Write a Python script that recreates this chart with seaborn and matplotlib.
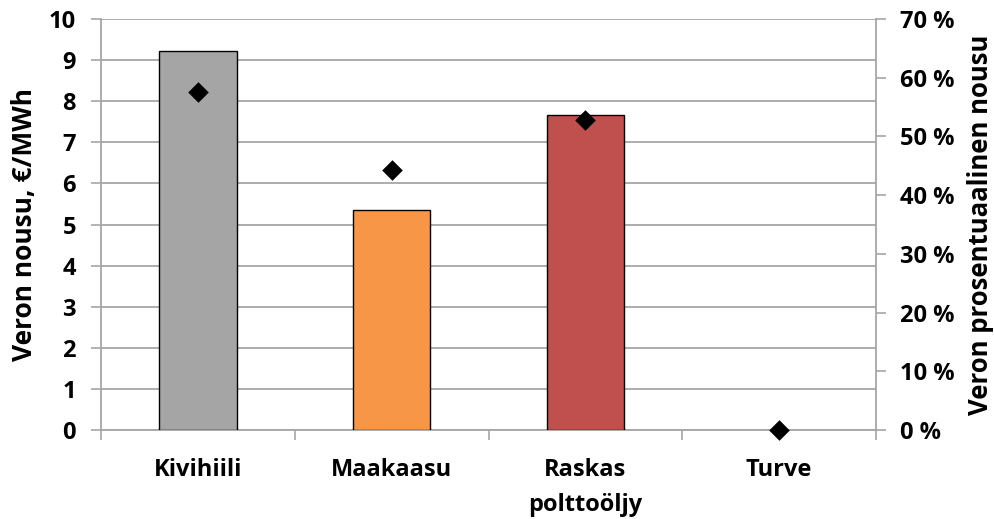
import matplotlib
matplotlib.use("Agg")
import matplotlib.pyplot as plt
import seaborn as sns
import pandas as pd
from matplotlib.ticker import FixedLocator, FuncFormatter

# Fuel categories and values
categories = ["Kivihiili", "Maakaasu", "Raskas\npolttoöljy", "Turve"]
tax_increase = [9.22, 5.35, 7.66, 0.0]          # €/MWh
pct_increase = [57.6, 44.3, 52.8, 0.0]          # %
bar_colors = ["#A5A5A5", "#F79646", "#C0504D", "#FFFFFF"]

sns.set_theme(style="white")
plt.rcParams["font.family"] = ["Open Sans", "DejaVu Sans"]
plt.rcParams["font.weight"] = "bold"
plt.rcParams["text.color"] = "black"

df = pd.DataFrame({"cat": categories, "tax": tax_increase, "pct": pct_increase})

fig = plt.figure(figsize=(9.95, 5.19), dpi=100)
ax = fig.add_axes([101 / 995, 1 - 430 / 519, 775 / 995, 411 / 519])

grid_c = "#A6A6A6"
sns.barplot(data=df, x="cat", y="tax", hue="cat", palette=bar_colors,
            saturation=1, legend=False, width=0.4, edgecolor="black",
            linewidth=1.0, ax=ax, zorder=3)
# a zero-height bar has no visible outline
for p, v in zip(ax.patches, tax_increase):
    if v == 0:
        p.set_linewidth(0)

ax.set_ylim(0, 10)
ax.set_xlim(-0.5, 3.5)
ax.set_yticks(range(0, 11))
ax.yaxis.grid(True, color=grid_c, linewidth=1.3, zorder=0)
ax.set_axisbelow(True)

for s in ["top", "right"]:
    ax.spines[s].set_visible(False)
for s in ["left", "bottom"]:
    ax.spines[s].set_color(grid_c)
    ax.spines[s].set_linewidth(1.3)

ax.tick_params(axis="y", which="major", direction="out", length=7, width=1.2,
               color=grid_c, labelsize=17, labelcolor="black", pad=11, left=True)
ax.tick_params(axis="x", which="major", length=0, labelsize=17,
               labelcolor="black", pad=20)
ax.xaxis.set_minor_locator(FixedLocator([-0.5, 0.5, 1.5, 2.5, 3.5]))
ax.tick_params(axis="x", which="minor", direction="out", length=7, width=1.2,
               color=grid_c, bottom=True)
ax.set_xlabel("")
ax.set_ylabel("Veron nousu, €/MWh", fontsize=19, fontweight="bold",
              color="black", labelpad=8)
for lbl in ax.get_xticklabels() + ax.get_yticklabels():
    lbl.set_fontweight("bold")
for lbl in ax.get_xticklabels():
    lbl.set_linespacing(1.62)

# Percentage increase on the secondary axis
ax2 = ax.twinx()
sns.scatterplot(data=df, x="cat", y="pct", marker="D", s=110, color="black",
                edgecolor="black", linewidth=0, ax=ax2, zorder=4, clip_on=False)
ax2.set_ylim(0, 70)
ax2.set_yticks(range(0, 71, 10))
ax2.yaxis.set_major_formatter(FuncFormatter(lambda v, p: f"{int(v)} %"))
for s in ["top", "left", "bottom"]:
    ax2.spines[s].set_visible(False)
ax2.spines["right"].set_color(grid_c)
ax2.spines["right"].set_linewidth(1.3)
ax2.tick_params(axis="y", direction="out", length=7, width=1.2, color=grid_c,
                labelsize=17, labelcolor="black", pad=10, right=True)
ax2.set_ylabel("Veron prosentuaalinen nousu", fontsize=18.5, fontweight="bold",
               color="black", labelpad=9)
for lbl in ax2.get_yticklabels():
    lbl.set_fontweight("bold")
ax2.grid(False)

fig.savefig("out.png", dpi=100)
